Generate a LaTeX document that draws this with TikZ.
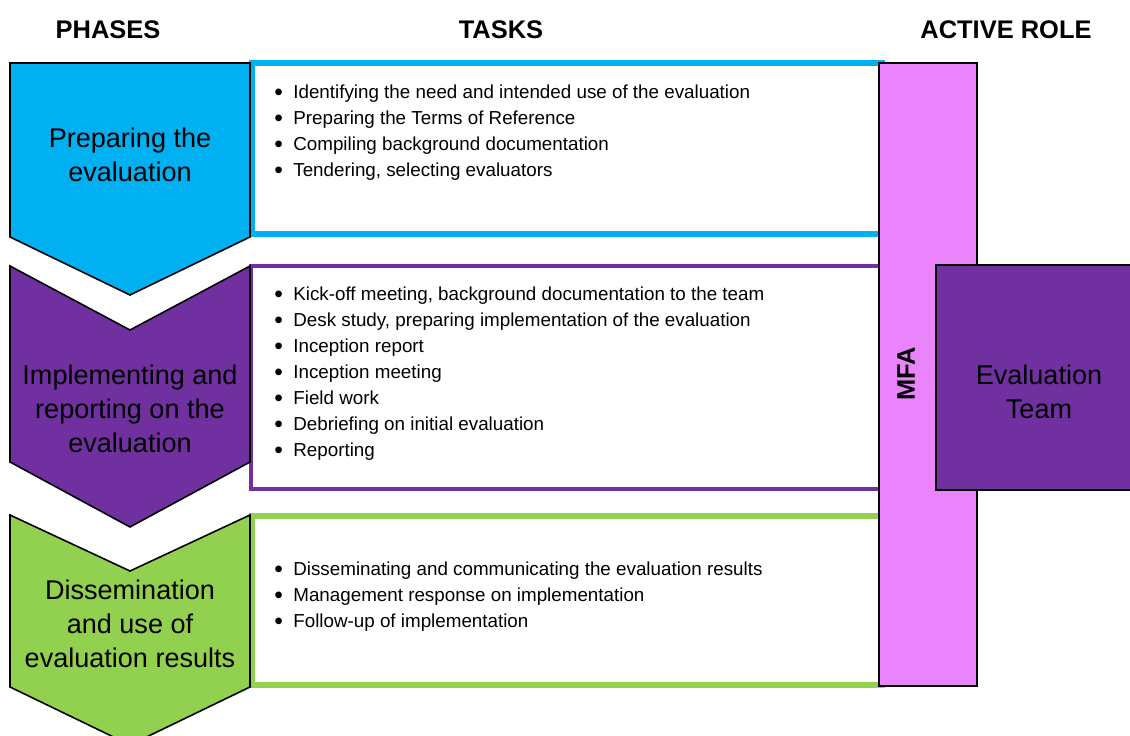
\documentclass[tikz,border=0pt]{standalone}
\usepackage{fontspec}
\setmainfont{Liberation Sans}
\usetikzlibrary{positioning}
\definecolor{phaseblue}{HTML}{00B0F0}
\definecolor{phasepurple}{HTML}{7030A0}
\definecolor{phasegreen}{HTML}{92D050}
\definecolor{mfapink}{HTML}{EA84FC}
\tikzstyle{chevron} = [draw=black, line width=0.9pt, line join=miter]
\tikzstyle{taskbox} = [fill=white]
\tikzstyle{phase} = [align=center, inner sep=0pt, font=\fontsize{15.4}{19.3}\selectfont]
\tikzstyle{tasks} = [align=left, anchor=north west, inner sep=0pt, font=\fontsize{10.7}{14.8}\selectfont]
\tikzstyle{header} = [inner sep=0pt, font=\fontsize{14.5}{17}\selectfont\bfseries]
\newcommand{\task}[1]{\makebox[0.38cm][l]{\raisebox{-0.2ex}{\fontsize{14}{14}\selectfont\textbullet}}#1}

\begin{document}
\begin{tikzpicture}[x=0.02cm, y=-0.02cm]

    \clip (0, 0) rectangle (1130, 736);

    \node (phases) [header] at (108, 30) {PHASES};
    \node (tasks) [header] at (501, 30) {TASKS};
    \node (role) [header] at (1006, 30) {ACTIVE ROLE};

    % task boxes
    \draw [taskbox, draw=phaseblue, line width=3pt] (252, 63) rectangle (882, 234);
    \draw [taskbox, draw=phasepurple, line width=2pt] (251, 266) rectangle (882, 489);
    \draw [taskbox, draw=phasegreen, line width=3pt] (252, 516) rectangle (882, 685);

    % phases
    \draw [chevron, fill=phaseblue] (10, 63) -- (250, 63) -- (250, 237) -- (130, 295) -- (10, 237) -- cycle;
    \draw [chevron, fill=phasepurple] (10, 266) -- (130, 330) -- (250, 266) -- (250, 462) -- (130, 527) -- (10, 462) -- cycle;
    \draw [chevron, fill=phasegreen] (10, 515) -- (130, 571) -- (250, 515) -- (250, 687) -- (130, 745) -- (10, 687) -- cycle;

    \node (prep) [phase] at (130, 155) {Preparing the\\evaluation};
    \node (impl) [phase] at (130, 409) {Implementing and\\reporting on the\\evaluation};
    \node (diss) [phase] at (130, 624) {Dissemination\\and use of\\evaluation results};

    \node (preptasks) [tasks] at (274, 85) {\task{Identifying the need and intended use of the evaluation}\\
        \task{Preparing the Terms of Reference}\\
        \task{Compiling background documentation}\\
        \task{Tendering, selecting evaluators}};
    \node (impltasks) [tasks] at (274, 287) {\task{Kick-off meeting, background documentation to the team}\\
        \task{Desk study, preparing implementation of the evaluation}\\
        \task{Inception report}\\
        \task{Inception meeting}\\
        \task{Field work}\\
        \task{Debriefing on initial evaluation}\\
        \task{Reporting}};
    \node (disstasks) [tasks] at (274, 562) {\task{Disseminating and communicating the evaluation results}\\
        \task{Management response on implementation}\\
        \task{Follow-up of implementation}};

    % active roles
    \draw [fill=mfapink, line width=1.4pt] (879, 63) rectangle (977, 686);
    \node (mfa) [header, rotate=90] at (906, 374) {MFA};
    \draw [fill=phasepurple, line width=0.9pt] (936, 265) rectangle (1140, 490);
    \node (team) [phase] at (1039, 392) {Evaluation\\Team};

\end{tikzpicture}
\end{document}
